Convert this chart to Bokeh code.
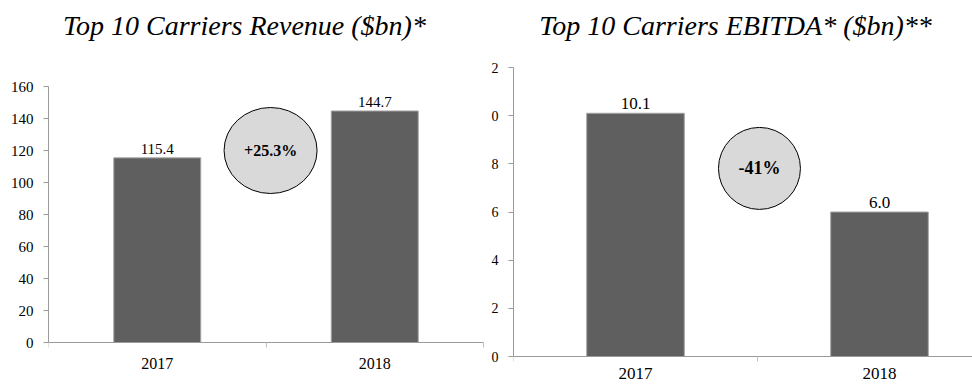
from bokeh.plotting import figure
from bokeh.layouts import row
from bokeh.models import ColumnDataSource, FixedTicker, Label, Range1d, LinearAxis
from bokeh.core.properties import value
from bokeh.embed import file_html
from bokeh.resources import INLINE

years = ["2017", "2018"]
revenue = [115.4, 144.7]
ebitda = [10.1, 6.0]
rev_ticks = [0, 20, 40, 60, 80, 100, 120, 140, 160]
ebitda_ticks = [0, 2, 4, 6, 8, 10, 12]
ebitda_tick_labels = {12: "2", 10: "0"}  # leading "1" is cut off in the picture
rev_change = "+25.3%"
ebitda_change = "-41%"
rev_title = "Top 10 Carriers Revenue ($bn)*"
ebitda_title = "Top 10 Carriers EBITDA* ($bn)**"

FONT = "Liberation Serif"
BAR = "#5f5f5f"
AXIS = "#9a9a9a"


def make_fig(cfg):
    p = figure(width=486, height=384, output_backend="svg", toolbar_location=None,
               x_range=Range1d(0, cfg["xend"]), y_range=Range1d(cfg["ystart"], cfg["yend"]),
               min_border_left=cfg["left"], min_border_right=0,
               min_border_top=0, min_border_bottom=0, x_axis_location=None)
    p.outline_line_color = None
    p.grid.grid_line_color = None
    p.background_fill_color = "white"
    p.border_fill_color = "white"
    ya = p.yaxis[0]
    ya.ticker = FixedTicker(ticks=cfg["ticks"], minor_ticks=[])
    ya.bounds = (0, cfg["ticks"][-1])
    ya.axis_line_color = AXIS
    ya.major_tick_line_color = AXIS
    ya.major_tick_out = 5
    ya.major_tick_in = 0
    ya.major_label_standoff = 10
    ya.major_label_text_font = FONT
    ya.major_label_text_font_size = cfg["tick_fs"]
    ya.major_label_text_color = "black"
    xa = LinearAxis(fixed_location=0,
                    ticker=FixedTicker(ticks=[0.5, 1.5], minor_ticks=[0, 1, 2]),
                    major_label_overrides={0.5: years[0], 1.5: years[1]})
    xa.bounds = (0, 2)
    xa.axis_line_color = AXIS
    xa.major_tick_line_color = None
    xa.major_tick_out = 0
    xa.major_tick_in = 0
    xa.minor_tick_line_color = "#c0c0c0"
    xa.minor_tick_out = 5
    xa.minor_tick_in = 0
    xa.major_label_standoff = cfg["xstand"]
    xa.major_label_text_font = FONT
    xa.major_label_text_font_size = cfg["year_fs"]
    xa.major_label_text_color = "black"
    p.add_layout(xa, "below")
    return p


def add_content(p, vals, cfg, change, title):
    xs = [i + 0.5 for i in range(len(years))]
    src = ColumnDataSource(dict(x=xs, top=vals, lab=[f"{v:.1f}" for v in vals]))
    p.vbar(x="x", top="top", width=cfg["bar_w"], source=src, fill_color=BAR,
           line_color="#a6a6a6", line_width=1)
    p.text(x="x", y="top", text="lab", source=src, text_align="center",
           text_baseline="bottom", y_offset=-4, text_font=value(FONT),
           text_font_size=cfg["val_fs"], text_color="black")
    ex, ey, ew, eh = cfg["ell"]
    p.ellipse(x=[ex], y=[ey], width=[ew], height=[eh], fill_color="#d9d9d9",
              line_color="black", line_width=1)
    p.add_layout(Label(x=ex, y=ey, text=change, text_align="center", text_baseline="middle",
                       text_font=FONT, text_font_size=cfg["bold_fs"], text_font_style="bold",
                       text_color="black"))
    tx, ty = cfg["title_pos"]
    p.add_layout(Label(x=tx, y=ty, text=title, text_align="center", text_baseline="middle",
                       text_font=FONT, text_font_size=cfg["title_fs"], text_font_style="italic",
                       text_color="black"))


# left chart: frame left at x=48, zero line at y=342, 1.6 px per unit, 217.5 px per category
left_cfg = dict(left=48, xend=438 / 217.5, ystart=-42 / 1.6, yend=342 / 1.6,
                ticks=rev_ticks, tick_fs="15px", year_fs="16px", val_fs="15px",
                bold_fs="16px", title_fs="28px", xstand=10, bar_w=0.4,
                ell=(1.021, 120, 0.4276, 53.75), title_pos=(0.901, 198.1))
# right chart: frame left at x=513, zero line at y=356, 24.083 px per unit, 244 px per category
right_cfg = dict(left=27, xend=459 / 244, ystart=-28 / 24.083, yend=356 / 24.083,
                 ticks=ebitda_ticks, tick_fs="14px", year_fs="17px", val_fs="17px",
                 bold_fs="18px", title_fs="28px", xstand=6, bar_w=0.40,
                 ell=(1.008, 7.81, 0.336, 3.405), title_pos=(0.910, 13.74))

p1 = make_fig(left_cfg)
add_content(p1, revenue, left_cfg, rev_change, rev_title)

p2 = make_fig(right_cfg)
p2.yaxis[0].major_label_overrides = ebitda_tick_labels
add_content(p2, ebitda, right_cfg, ebitda_change, ebitda_title)

layout = row(p1, p2, spacing=0)
open("out.html", "w").write(file_html(layout, INLINE))
